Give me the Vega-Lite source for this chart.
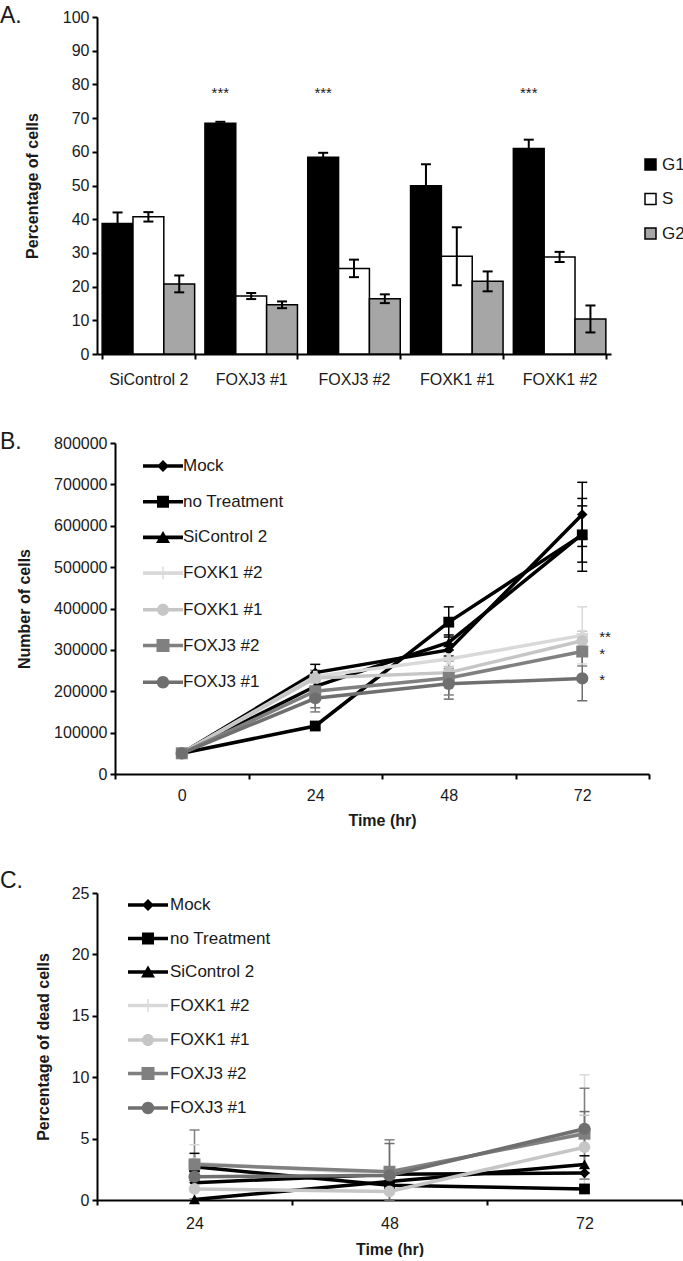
{
  "$schema": "https://vega.github.io/schema/vega-lite/v6.json",
  "padding": {"left": 0, "top": 5, "right": 0, "bottom": 0},
  "bounds": "flush",
  "spacing": 89,
  "config": {
    "font": "Liberation Sans",
    "view": {"stroke": null},
    "axis": {"domainColor": "#000", "domainWidth": 2, "tickColor": "#000", "tickWidth": 2, "tickSize": 5, "labelColor": "#1a1a1a", "labelFontSize": 16, "labelFont": "Liberation Sans", "labelOverlap": false, "titleColor": "#1a1a1a", "titleFontSize": 16, "titleFontWeight": "bold", "titleFont": "Liberation Sans", "grid": false},
    "legend": {"labelFontSize": 17, "labelColor": "#1a1a1a", "labelFont": "Liberation Sans", "padding": 0},
    "title": {"fontSize": 23, "fontWeight": "normal", "anchor": "start", "frame": "group", "color": "#1a1a1a", "font": "Liberation Sans"}
  },
  "datasets": {
    "cycle": [
      {"group": "SiControl 2", "phase": "G1", "pct": 38.7, "lo": 35.4, "hi": 42.0},
      {"group": "SiControl 2", "phase": "S", "pct": 40.7, "lo": 39.3, "hi": 42.1},
      {"group": "SiControl 2", "phase": "G2", "pct": 20.8, "lo": 18.3, "hi": 23.3},
      {"group": "FOXJ3 #1", "phase": "G1", "pct": 68.5, "lo": 68.1, "hi": 68.9},
      {"group": "FOXJ3 #1", "phase": "S", "pct": 17.2, "lo": 16.3, "hi": 18.1},
      {"group": "FOXJ3 #1", "phase": "G2", "pct": 14.6, "lo": 13.6, "hi": 15.6},
      {"group": "FOXJ3 #2", "phase": "G1", "pct": 58.4, "lo": 57.1, "hi": 59.7},
      {"group": "FOXJ3 #2", "phase": "S", "pct": 25.4, "lo": 22.8, "hi": 28.0},
      {"group": "FOXJ3 #2", "phase": "G2", "pct": 16.4, "lo": 15.1, "hi": 17.7},
      {"group": "FOXK1 #1", "phase": "G1", "pct": 49.9, "lo": 43.5, "hi": 56.3},
      {"group": "FOXK1 #1", "phase": "S", "pct": 29.0, "lo": 20.4, "hi": 37.6},
      {"group": "FOXK1 #1", "phase": "G2", "pct": 21.6, "lo": 18.6, "hi": 24.5},
      {"group": "FOXK1 #2", "phase": "G1", "pct": 61.0, "lo": 58.4, "hi": 63.6},
      {"group": "FOXK1 #2", "phase": "S", "pct": 28.8, "lo": 27.3, "hi": 30.3},
      {"group": "FOXK1 #2", "phase": "G2", "pct": 10.4, "lo": 6.4, "hi": 14.4}
    ],
    "stars": [
      {"group": "FOXJ3 #1", "phase": "G1", "sig": "***"},
      {"group": "FOXJ3 #2", "phase": "G1", "sig": "***"},
      {"group": "FOXK1 #2", "phase": "G1", "sig": "***"}
    ],
    "growth": [
      {"series": "Mock", "time": 0, "cells": 50000},
      {"series": "Mock", "time": 24, "cells": 245000, "lo": 225000, "hi": 265000},
      {"series": "Mock", "time": 48, "cells": 300000, "lo": 285000, "hi": 315000},
      {"series": "Mock", "time": 72, "cells": 627000, "lo": 550000, "hi": 705000},
      {"series": "no Treatment", "time": 0, "cells": 50000},
      {"series": "no Treatment", "time": 24, "cells": 116000, "lo": 108000, "hi": 124000},
      {"series": "no Treatment", "time": 48, "cells": 367000, "lo": 331000, "hi": 404000},
      {"series": "no Treatment", "time": 72, "cells": 578000, "lo": 490000, "hi": 666000},
      {"series": "SiControl 2", "time": 0, "cells": 50000},
      {"series": "SiControl 2", "time": 24, "cells": 212000, "lo": 195000, "hi": 229000},
      {"series": "SiControl 2", "time": 48, "cells": 318000, "lo": 300000, "hi": 336000},
      {"series": "SiControl 2", "time": 72, "cells": 580000, "lo": 512000, "hi": 648000},
      {"series": "FOXK1 #2", "time": 0, "cells": 50000},
      {"series": "FOXK1 #2", "time": 24, "cells": 236000, "lo": 220000, "hi": 252000},
      {"series": "FOXK1 #2", "time": 48, "cells": 278000, "lo": 255000, "hi": 301000},
      {"series": "FOXK1 #2", "time": 72, "cells": 335000, "lo": 266000, "hi": 404000, "sig": "**"},
      {"series": "FOXK1 #1", "time": 0, "cells": 50000},
      {"series": "FOXK1 #1", "time": 24, "cells": 232000, "lo": 220000, "hi": 244000},
      {"series": "FOXK1 #1", "time": 48, "cells": 245000, "lo": 230000, "hi": 260000},
      {"series": "FOXK1 #1", "time": 72, "cells": 322000, "lo": 300000, "hi": 345000},
      {"series": "FOXJ3 #2", "time": 0, "cells": 50000},
      {"series": "FOXJ3 #2", "time": 24, "cells": 200000, "lo": 150000, "hi": 250000},
      {"series": "FOXJ3 #2", "time": 48, "cells": 232000, "lo": 191000, "hi": 273000},
      {"series": "FOXJ3 #2", "time": 72, "cells": 296000, "lo": 261000, "hi": 331000, "sig": "*"},
      {"series": "FOXJ3 #1", "time": 0, "cells": 50000},
      {"series": "FOXJ3 #1", "time": 24, "cells": 183000, "lo": 160000, "hi": 206000},
      {"series": "FOXJ3 #1", "time": 48, "cells": 218000, "lo": 181000, "hi": 255000},
      {"series": "FOXJ3 #1", "time": 72, "cells": 231000, "lo": 177000, "hi": 285000, "sig": "*"}
    ],
    "dead": [
      {"series": "Mock", "time": 24, "dead": 1.4},
      {"series": "Mock", "time": 48, "dead": 2.1},
      {"series": "Mock", "time": 72, "dead": 2.2},
      {"series": "no Treatment", "time": 24, "dead": 2.7, "lo": 1.6, "hi": 3.8},
      {"series": "no Treatment", "time": 48, "dead": 1.2},
      {"series": "no Treatment", "time": 72, "dead": 0.9},
      {"series": "SiControl 2", "time": 24, "dead": 0.05},
      {"series": "SiControl 2", "time": 48, "dead": 1.5},
      {"series": "SiControl 2", "time": 72, "dead": 2.9, "lo": 2.2, "hi": 3.6},
      {"series": "FOXK1 #2", "time": 24, "dead": 3.0, "lo": 1.5, "hi": 4.5},
      {"series": "FOXK1 #2", "time": 48, "dead": 2.1},
      {"series": "FOXK1 #2", "time": 72, "dead": 5.6, "lo": 1.0, "hi": 10.2},
      {"series": "FOXK1 #1", "time": 24, "dead": 0.9},
      {"series": "FOXK1 #1", "time": 48, "dead": 0.7},
      {"series": "FOXK1 #1", "time": 72, "dead": 4.3, "lo": 1.7, "hi": 6.9},
      {"series": "FOXJ3 #2", "time": 24, "dead": 2.9, "lo": 0.1, "hi": 5.7},
      {"series": "FOXJ3 #2", "time": 48, "dead": 2.3, "lo": 0.0, "hi": 4.9},
      {"series": "FOXJ3 #2", "time": 72, "dead": 5.4, "lo": 1.7, "hi": 9.1},
      {"series": "FOXJ3 #1", "time": 24, "dead": 1.9},
      {"series": "FOXJ3 #1", "time": 48, "dead": 2.0, "lo": 0.0, "hi": 4.6},
      {"series": "FOXJ3 #1", "time": 72, "dead": 5.8, "lo": 4.4, "hi": 7.2}
    ]
  },
  "resolve": {"scale": {"x": "independent", "y": "independent", "color": "independent", "fill": "independent", "shape": "independent", "size": "independent"}},
  "vconcat": [
    {
      "width": 514,
      "height": 337,
      "title": {"text": "A.", "dx": -97, "offset": -19},
      "layer": [
        {
          "data": {"name": "cycle"},
          "mark": {"type": "bar", "stroke": "#000", "strokeWidth": 1.5},
          "encoding": {
            "x": {"field": "group", "type": "nominal", "scale": {"domain": ["SiControl 2", "FOXJ3 #1", "FOXJ3 #2", "FOXK1 #1", "FOXK1 #2"], "paddingInner": 0.1, "paddingOuter": 0.05}, "axis": {"title": null, "labelAngle": 0, "tickBand": "extent", "labelPadding": 12}},
            "xOffset": {"field": "phase", "type": "nominal", "scale": {"domain": ["G1", "S", "G2"], "paddingInner": 0, "paddingOuter": 0}},
            "y": {"field": "pct", "type": "quantitative", "scale": {"domain": [0, 100], "nice": false}, "axis": {"title": "Percentage of cells", "values": [0, 10, 20, 30, 40, 50, 60, 70, 80, 90, 100], "tickCount": 11, "labelOverlap": false, "labelSeparation": 0, "labelPadding": 3, "titlePadding": 22}},
            "fill": {"field": "phase", "type": "nominal", "scale": {"domain": ["G1", "S", "G2"], "range": ["#000000", "#ffffff", "#a6a6a6"]}, "legend": {"title": null, "orient": "none", "legendX": 545, "legendY": 139, "symbolType": "square", "symbolSize": 121, "symbolStrokeColor": "#000", "symbolStrokeWidth": 1.5, "labelOffset": 3, "rowPadding": 16.5, "labelFontSize": 17}}
          }
        },
        {
          "data": {"name": "cycle"},
          "mark": {"type": "rule", "color": "#000", "strokeWidth": 2},
          "encoding": {
            "x": {"field": "group", "type": "nominal"},
            "xOffset": {"field": "phase", "type": "nominal"},
            "y": {"field": "lo", "type": "quantitative"},
            "y2": {"field": "hi"}
          }
        },
        {
          "data": {"name": "cycle"},
          "mark": {"type": "tick", "color": "#000", "thickness": 2, "size": 10, "opacity": 1},
          "encoding": {
            "x": {"field": "group", "type": "nominal"},
            "xOffset": {"field": "phase", "type": "nominal"},
            "y": {"field": "lo", "type": "quantitative"}
          }
        },
        {
          "data": {"name": "cycle"},
          "mark": {"type": "tick", "color": "#000", "thickness": 2, "size": 10, "opacity": 1},
          "encoding": {
            "x": {"field": "group", "type": "nominal"},
            "xOffset": {"field": "phase", "type": "nominal"},
            "y": {"field": "hi", "type": "quantitative"}
          }
        },
        {
          "data": {"name": "stars"},
          "mark": {"type": "text", "fontSize": 15, "baseline": "middle", "align": "center", "color": "#1a1a1a"},
          "encoding": {
            "x": {"field": "group", "type": "nominal"},
            "xOffset": {"field": "phase", "type": "nominal"},
            "y": {"datum": 77.5, "type": "quantitative"},
            "text": {"field": "sig"}
          }
        }
      ]
    },
    {
      "width": 552,
      "height": 331,
      "title": {"text": "B.", "dx": -97, "offset": -19},
      "data": {"name": "growth"},
      "encoding": {
        "x": {"field": "time", "type": "ordinal", "scale": {"type": "band", "range": [18, 552], "paddingInner": 0, "paddingOuter": 0}, "axis": {"title": "Time (hr)", "labelAngle": 0, "tickBand": "extent", "labelPadding": 8, "titlePadding": 9}},
        "y": {"field": "cells", "type": "quantitative", "scale": {"domain": [0, 800000], "nice": false}, "axis": {"title": "Number of cells", "values": [0, 100000, 200000, 300000, 400000, 500000, 600000, 700000, 800000], "format": "d", "offset": -18, "labelPadding": 3, "titlePadding": 21}}
      },
      "layer": [
        {
          "transform": [{"filter": "isValid(datum.lo)"}],
          "mark": {"type": "rule", "strokeWidth": 1.5},
          "encoding": {
            "y": {"field": "lo", "type": "quantitative"},
            "y2": {"field": "hi"},
            "color": {"field": "series", "type": "nominal", "scale": {"domain": ["Mock", "no Treatment", "SiControl 2", "FOXK1 #2", "FOXK1 #1", "FOXJ3 #2", "FOXJ3 #1"], "range": ["#000000", "#000000", "#000000", "#d9d9d9", "#c6c6c6", "#808080", "#6f6f6f"]}, "legend": null}
          }
        },
        {
          "transform": [{"filter": "isValid(datum.lo)"}],
          "mark": {"type": "tick", "thickness": 1.5, "size": 10, "opacity": 1},
          "encoding": {
            "y": {"field": "lo", "type": "quantitative"},
            "color": {"field": "series", "type": "nominal", "scale": {"domain": ["Mock", "no Treatment", "SiControl 2", "FOXK1 #2", "FOXK1 #1", "FOXJ3 #2", "FOXJ3 #1"], "range": ["#000000", "#000000", "#000000", "#d9d9d9", "#c6c6c6", "#808080", "#6f6f6f"]}, "legend": null}
          }
        },
        {
          "transform": [{"filter": "isValid(datum.lo)"}],
          "mark": {"type": "tick", "thickness": 1.5, "size": 10, "opacity": 1},
          "encoding": {
            "y": {"field": "hi", "type": "quantitative"},
            "color": {"field": "series", "type": "nominal", "scale": {"domain": ["Mock", "no Treatment", "SiControl 2", "FOXK1 #2", "FOXK1 #1", "FOXJ3 #2", "FOXJ3 #1"], "range": ["#000000", "#000000", "#000000", "#d9d9d9", "#c6c6c6", "#808080", "#6f6f6f"]}, "legend": null}
          }
        },
        {
          "mark": {"type": "line", "strokeWidth": 3.5},
          "encoding": {
            "color": {"field": "series", "type": "nominal", "scale": {"domain": ["Mock", "no Treatment", "SiControl 2", "FOXK1 #2", "FOXK1 #1", "FOXJ3 #2", "FOXJ3 #1"], "range": ["#000000", "#000000", "#000000", "#d9d9d9", "#c6c6c6", "#808080", "#6f6f6f"]}, "legend": null}
          }
        },
        {
          "mark": {"type": "point", "filled": true, "opacity": 1},
          "encoding": {
            "color": {"field": "series", "type": "nominal", "scale": {"domain": ["Mock", "no Treatment", "SiControl 2", "FOXK1 #2", "FOXK1 #1", "FOXJ3 #2", "FOXJ3 #1"], "range": ["#000000", "#000000", "#000000", "#d9d9d9", "#c6c6c6", "#808080", "#6f6f6f"]}, "legend": null},
            "shape": {"field": "series", "type": "nominal", "scale": {"domain": ["Mock", "no Treatment", "SiControl 2", "FOXK1 #2", "FOXK1 #1", "FOXJ3 #2", "FOXJ3 #1"], "range": ["diamond", "square", "triangle-up", "cross", "circle", "square", "circle"]}, "legend": null},
            "size": {"field": "series", "type": "nominal", "scale": {"domain": ["Mock", "no Treatment", "SiControl 2", "FOXK1 #2", "FOXK1 #1", "FOXJ3 #2", "FOXJ3 #1"], "range": [110, 150, 110, 60, 140, 200, 180]}, "legend": null}
          }
        },
        {
          "transform": [{"filter": "datum.time < 0"}],
          "mark": {"type": "point", "filled": true, "opacity": 1, "size": 400},
          "encoding": {
            "shape": {"field": "series", "type": "nominal", "scale": {"domain": ["Mock", "no Treatment", "SiControl 2", "FOXK1 #2", "FOXK1 #1", "FOXJ3 #2", "FOXJ3 #1"], "range": ["M-2,-0.18H2V0.18H-2ZM0,-0.6L0.6,0L0,0.6L-0.6,0Z", "M-2,-0.18H2V0.18H-2ZM-0.6,-0.6H0.6V0.6H-0.6Z", "M-2,-0.18H2V0.18H-2ZM0,-0.65L0.7,0.55H-0.7Z", "M-2,-0.18H2V0.18H-2ZM-0.07,-0.65H0.07V0.65H-0.07Z", "M-2,-0.18H2V0.18H-2ZM0.6,0A0.6,0.6,0,1,1,-0.6,0A0.6,0.6,0,1,1,0.6,0Z", "M-2,-0.18H2V0.18H-2ZM-0.65,-0.65H0.65V0.65H-0.65Z", "M-2,-0.18H2V0.18H-2ZM0.62,0A0.62,0.62,0,1,1,-0.62,0A0.62,0.62,0,1,1,0.62,0Z"]}, "legend": {"title": null, "orient": "none", "legendX": 55, "legendY": 12, "labelOffset": 9, "rowPadding": 15.7, "symbolSize": 400, "symbolOpacity": 1, "labelFontSize": 17}},
            "color": {"field": "series", "type": "nominal", "scale": {"domain": ["Mock", "no Treatment", "SiControl 2", "FOXK1 #2", "FOXK1 #1", "FOXJ3 #2", "FOXJ3 #1"], "range": ["#000000", "#000000", "#000000", "#d9d9d9", "#c6c6c6", "#808080", "#6f6f6f"]}, "legend": {"title": null, "orient": "none", "legendX": 55, "legendY": 12, "labelOffset": 9, "rowPadding": 15.7, "symbolSize": 400, "symbolOpacity": 1, "labelFontSize": 17}}
          }
        },
        {
          "transform": [{"filter": "isValid(datum.sig)"}],
          "mark": {"type": "text", "align": "left", "baseline": "middle", "dx": 17, "dy": 2, "fontSize": 15, "color": "#1a1a1a"},
          "encoding": {
            "text": {"field": "sig"}
          }
        }
      ],
      "resolve": {"scale": {"shape": "independent", "color": "independent", "size": "independent"}}
    },
    {
      "width": 585,
      "height": 337,
      "title": {"text": "C.", "dx": -97, "offset": -30},
      "data": {"name": "dead"},
      "encoding": {
        "x": {"field": "time", "type": "ordinal", "scale": {"type": "band", "paddingInner": 0, "paddingOuter": 0}, "axis": {"title": "Time (hr)", "labelAngle": 0, "tickBand": "extent", "labelPadding": 10, "titlePadding": 10}},
        "y": {"field": "dead", "type": "quantitative", "scale": {"domain": [0, 25], "nice": false, "range": [337, 30]}, "axis": {"title": "Percentage of dead cells", "values": [0, 5, 10, 15, 20, 25], "labelPadding": 3, "titlePadding": 20}}
      },
      "layer": [
        {
          "transform": [{"filter": "isValid(datum.lo)"}],
          "mark": {"type": "rule", "strokeWidth": 1.5},
          "encoding": {
            "y": {"field": "lo", "type": "quantitative"},
            "y2": {"field": "hi"},
            "color": {"field": "series", "type": "nominal", "scale": {"domain": ["Mock", "no Treatment", "SiControl 2", "FOXK1 #2", "FOXK1 #1", "FOXJ3 #2", "FOXJ3 #1"], "range": ["#000000", "#000000", "#000000", "#d9d9d9", "#c6c6c6", "#808080", "#6f6f6f"]}, "legend": null}
          }
        },
        {
          "transform": [{"filter": "isValid(datum.lo)"}],
          "mark": {"type": "tick", "thickness": 1.5, "size": 10, "opacity": 1},
          "encoding": {
            "y": {"field": "lo", "type": "quantitative"},
            "color": {"field": "series", "type": "nominal", "scale": {"domain": ["Mock", "no Treatment", "SiControl 2", "FOXK1 #2", "FOXK1 #1", "FOXJ3 #2", "FOXJ3 #1"], "range": ["#000000", "#000000", "#000000", "#d9d9d9", "#c6c6c6", "#808080", "#6f6f6f"]}, "legend": null}
          }
        },
        {
          "transform": [{"filter": "isValid(datum.lo)"}],
          "mark": {"type": "tick", "thickness": 1.5, "size": 10, "opacity": 1},
          "encoding": {
            "y": {"field": "hi", "type": "quantitative"},
            "color": {"field": "series", "type": "nominal", "scale": {"domain": ["Mock", "no Treatment", "SiControl 2", "FOXK1 #2", "FOXK1 #1", "FOXJ3 #2", "FOXJ3 #1"], "range": ["#000000", "#000000", "#000000", "#d9d9d9", "#c6c6c6", "#808080", "#6f6f6f"]}, "legend": null}
          }
        },
        {
          "mark": {"type": "line", "strokeWidth": 3.5},
          "encoding": {
            "color": {"field": "series", "type": "nominal", "scale": {"domain": ["Mock", "no Treatment", "SiControl 2", "FOXK1 #2", "FOXK1 #1", "FOXJ3 #2", "FOXJ3 #1"], "range": ["#000000", "#000000", "#000000", "#d9d9d9", "#c6c6c6", "#808080", "#6f6f6f"]}, "legend": null}
          }
        },
        {
          "mark": {"type": "point", "filled": true, "opacity": 1},
          "encoding": {
            "color": {"field": "series", "type": "nominal", "scale": {"domain": ["Mock", "no Treatment", "SiControl 2", "FOXK1 #2", "FOXK1 #1", "FOXJ3 #2", "FOXJ3 #1"], "range": ["#000000", "#000000", "#000000", "#d9d9d9", "#c6c6c6", "#808080", "#6f6f6f"]}, "legend": null},
            "shape": {"field": "series", "type": "nominal", "scale": {"domain": ["Mock", "no Treatment", "SiControl 2", "FOXK1 #2", "FOXK1 #1", "FOXJ3 #2", "FOXJ3 #1"], "range": ["diamond", "square", "triangle-up", "cross", "circle", "square", "circle"]}, "legend": null},
            "size": {"field": "series", "type": "nominal", "scale": {"domain": ["Mock", "no Treatment", "SiControl 2", "FOXK1 #2", "FOXK1 #1", "FOXJ3 #2", "FOXJ3 #1"], "range": [110, 150, 110, 60, 140, 200, 180]}, "legend": null}
          }
        },
        {
          "transform": [{"filter": "datum.time < 0"}],
          "mark": {"type": "point", "filled": true, "opacity": 1, "size": 400},
          "encoding": {
            "shape": {"field": "series", "type": "nominal", "scale": {"domain": ["Mock", "no Treatment", "SiControl 2", "FOXK1 #2", "FOXK1 #1", "FOXJ3 #2", "FOXJ3 #1"], "range": ["M-2,-0.18H2V0.18H-2ZM0,-0.6L0.6,0L0,0.6L-0.6,0Z", "M-2,-0.18H2V0.18H-2ZM-0.6,-0.6H0.6V0.6H-0.6Z", "M-2,-0.18H2V0.18H-2ZM0,-0.65L0.7,0.55H-0.7Z", "M-2,-0.18H2V0.18H-2ZM-0.07,-0.65H0.07V0.65H-0.07Z", "M-2,-0.18H2V0.18H-2ZM0.6,0A0.6,0.6,0,1,1,-0.6,0A0.6,0.6,0,1,1,0.6,0Z", "M-2,-0.18H2V0.18H-2ZM-0.65,-0.65H0.65V0.65H-0.65Z", "M-2,-0.18H2V0.18H-2ZM0.62,0A0.62,0.62,0,1,1,-0.62,0A0.62,0.62,0,1,1,0.62,0Z"]}, "legend": {"title": null, "orient": "none", "legendX": 40, "legendY": 31, "labelOffset": 11, "rowPadding": 13.5, "symbolSize": 400, "symbolOpacity": 1, "labelFontSize": 17}},
            "color": {"field": "series", "type": "nominal", "scale": {"domain": ["Mock", "no Treatment", "SiControl 2", "FOXK1 #2", "FOXK1 #1", "FOXJ3 #2", "FOXJ3 #1"], "range": ["#000000", "#000000", "#000000", "#d9d9d9", "#c6c6c6", "#808080", "#6f6f6f"]}, "legend": {"title": null, "orient": "none", "legendX": 40, "legendY": 31, "labelOffset": 11, "rowPadding": 13.5, "symbolSize": 400, "symbolOpacity": 1, "labelFontSize": 17}}
          }
        }
      ],
      "resolve": {"scale": {"shape": "independent", "color": "independent", "size": "independent"}}
    }
  ]
}
